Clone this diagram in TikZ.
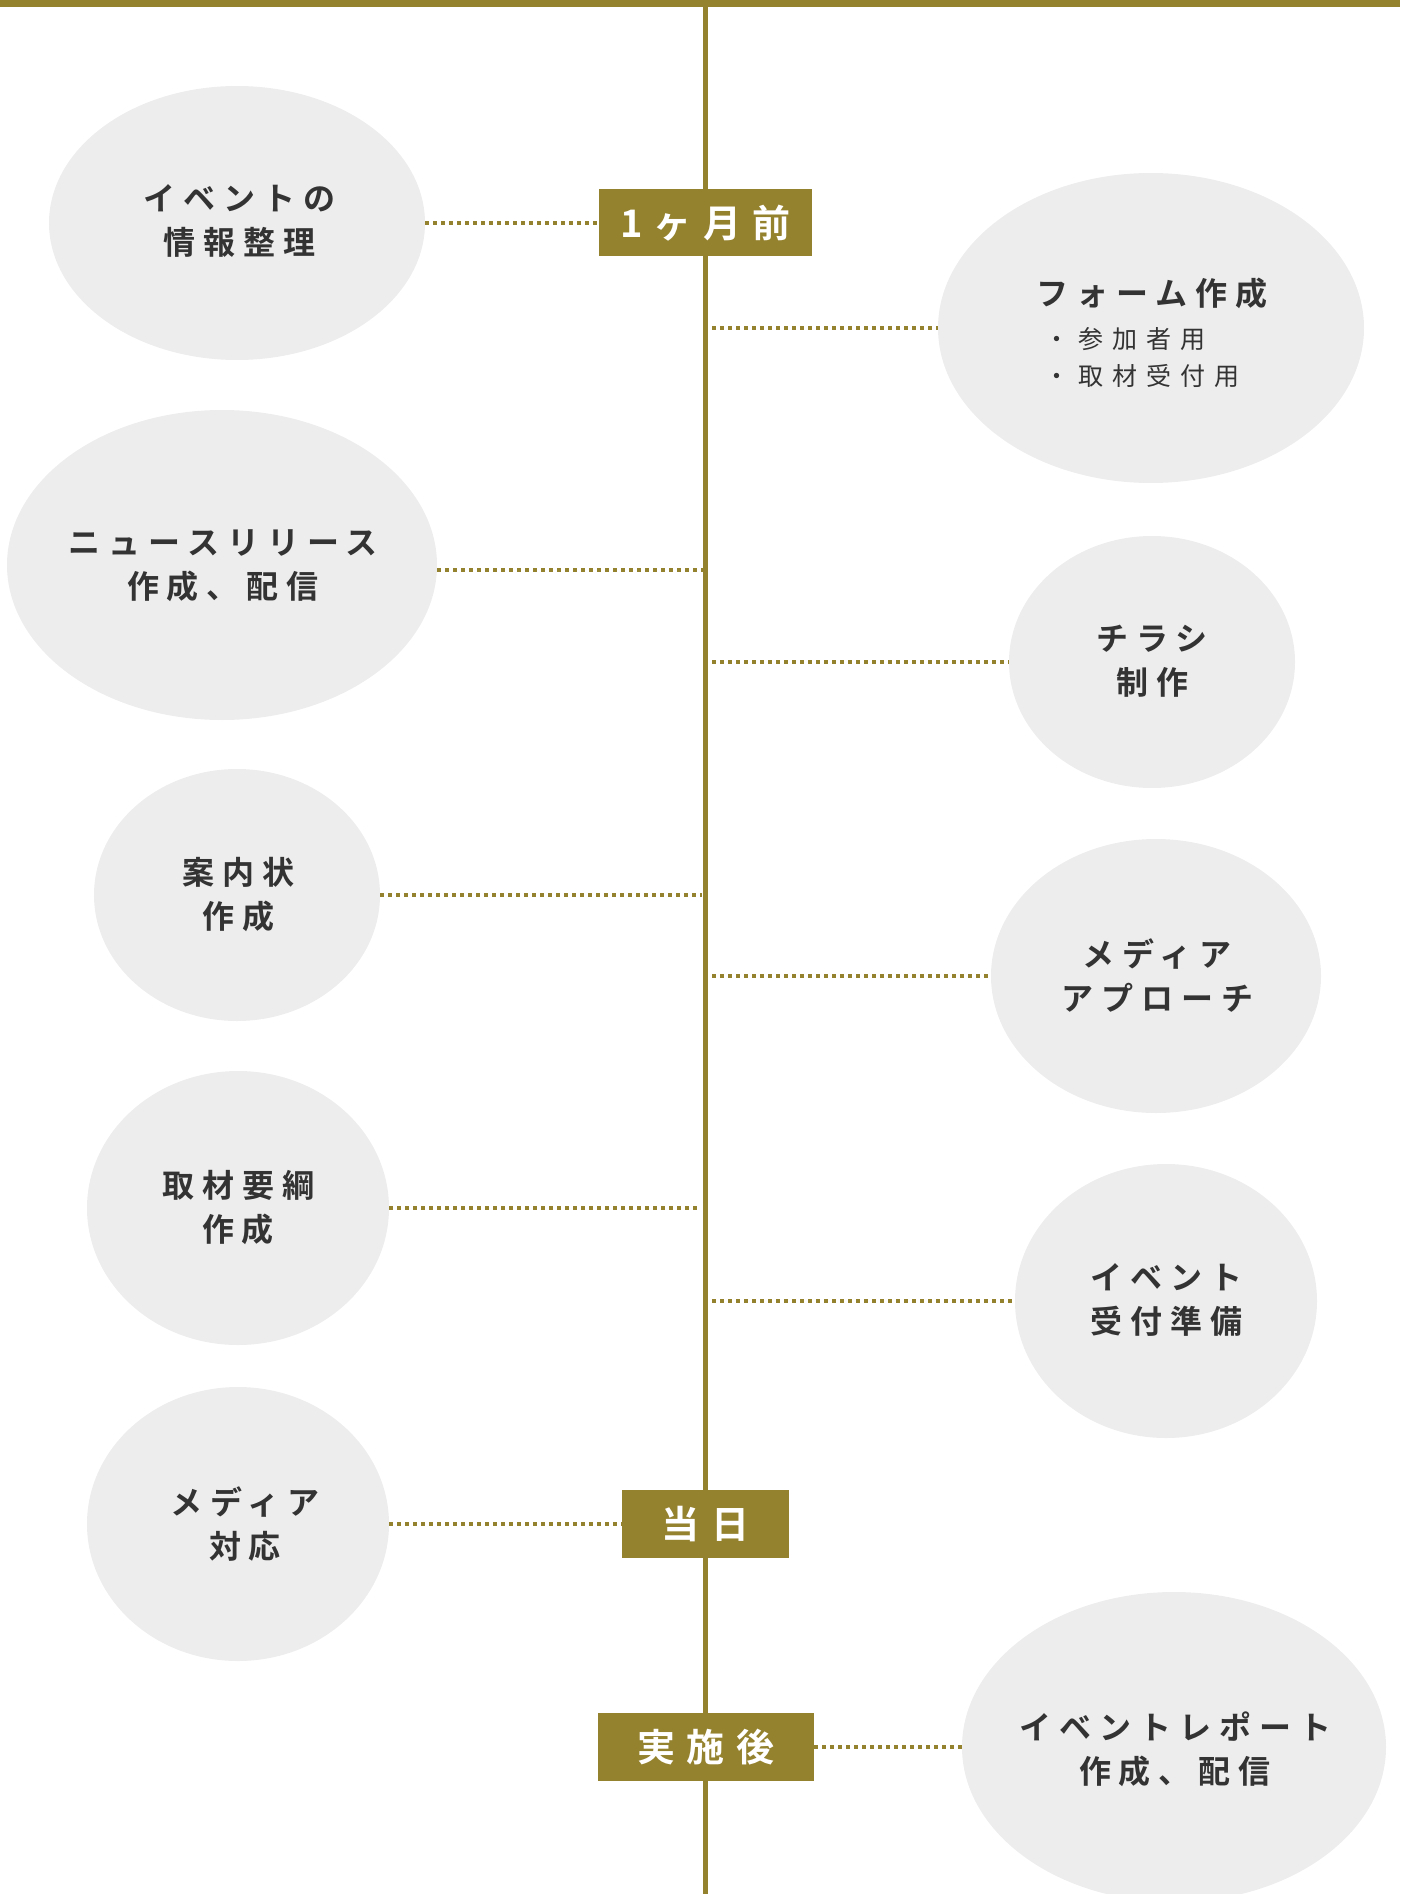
\documentclass[tikz,border=0pt]{standalone}
\usepackage{fontspec}
\usetikzlibrary{shapes.geometric}
\newfontfamily\jpnegrita[LetterSpace=25]{Noto Sans CJK JP Bold}
\newfontfamily\jpnormal[LetterSpace=36]{Noto Sans CJK JP}
\newfontfamily\jpcaja[LetterSpace=30]{Noto Sans CJK JP Bold}
\definecolor{oliva}{HTML}{95822F}
\definecolor{fondo}{HTML}{EDEDED}
\definecolor{texto}{HTML}{333333}

\begin{document}
\begin{tikzpicture}[x=1pt, y=-1pt, % 1 px = 1 pt, eje y hacia abajo
  globo/.style={ellipse, fill=fondo, inner sep=0pt},
  etiqueta/.style={text=texto, align=center, font=\jpnegrita\fontsize{32}{44}\selectfont},
  caja/.style={fill=oliva, text=white, inner sep=0pt, font=\jpcaja\fontsize{38}{40}\selectfont},
  punteado/.style={draw=oliva, line width=4pt, dash pattern=on 4pt off 4pt}]
\useasboundingbox (0,0) rectangle (1400,1894);
% Barra superior y linea de tiempo
\fill[oliva] (0,0) rectangle (1400,7);
\coordinate (arriba) at (705,0);
\coordinate (abajo) at (705,1894);
\draw[oliva, line width=5pt] (arriba) -- (abajo);
% Etapas
\node[caja, minimum width=213, minimum height=67] (mes) at (705.5,223) {1ヶ月前};
\node[caja, minimum width=167, minimum height=68] (dia) at (705.5,1524) {当日};
\node[caja, minimum width=216, minimum height=68] (despues) at (706,1747) {実施後};
% Globos de la izquierda
\node[globo, minimum width=376, minimum height=274] (e1) at (237,223) {};
\node[globo, minimum width=430, minimum height=310] (e3) at (222,565) {};
\node[globo, minimum width=286, minimum height=252] (e5) at (237,895) {};
\node[globo, minimum width=302, minimum height=274] (e7) at (238,1208) {};
\node[globo, minimum width=302, minimum height=274] (e9) at (238,1524) {};
% Globos de la derecha
\node[globo, minimum width=426, minimum height=310] (e2) at (1151,328) {};
\node[globo, minimum width=286, minimum height=252] (e4) at (1152,662) {};
\node[globo, minimum width=330, minimum height=274] (e6) at (1156,976) {};
\node[globo, minimum width=302, minimum height=274] (e8) at (1166,1301) {};
\node[globo, minimum width=424, minimum height=310] (e10) at (1174,1747) {};
% Textos
\node[etiqueta] (t1) at (239,221) {イベントの\\情報整理};
\node[etiqueta] (t2) at (1152,337) {フォーム作成\\[13pt]
  {\jpnormal\fontsize{25}{37}\selectfont\begin{tabular}{@{}l@{}}・参加者用\\・取材受付用\end{tabular}\hspace*{20pt}}};
\node[etiqueta] (t3) at (223,566) {ニュースリリース\\作成、配信};
\node[etiqueta] (t4) at (1152,661) {チラシ\\制作};
\node[etiqueta] (t5) at (238,895) {案内状\\作成};
\node[etiqueta] (t6) at (1157,976) {メディア\\アプローチ};
\node[etiqueta] (t7) at (238,1208) {取材要綱\\作成};
\node[etiqueta] (t8) at (1166,1300) {イベント\\受付準備};
\node[etiqueta] (t9) at (245,1524) {メディア\\対応};
\node[etiqueta] (t10) at (1175,1749) {イベントレポート\\作成、配信};
% Puntos de union sobre la linea
\coordinate (p2) at (712,328);
\coordinate (p3) at (709,570);
\coordinate (p4) at (712,662);
\coordinate (p5) at (702,895);
\coordinate (p6) at (712,976);
\coordinate (p7) at (698,1208);
\coordinate (p8) at (712,1301);
% Lineas punteadas
\draw[punteado] (e1) -- (mes);
\draw[punteado] (p2) -- (e2);
\draw[punteado] (e3.east |- p3) -- (p3);
\draw[punteado] (p4) -- (e4);
\draw[punteado] (e5) -- (p5);
\draw[punteado] (p6) -- (e6);
\draw[punteado] (e7) -- (p7);
\draw[punteado] (p8) -- (e8);
\draw[punteado] (e9) -- (dia);
\draw[punteado] (despues) -- (e10);
\end{tikzpicture}
\end{document}
